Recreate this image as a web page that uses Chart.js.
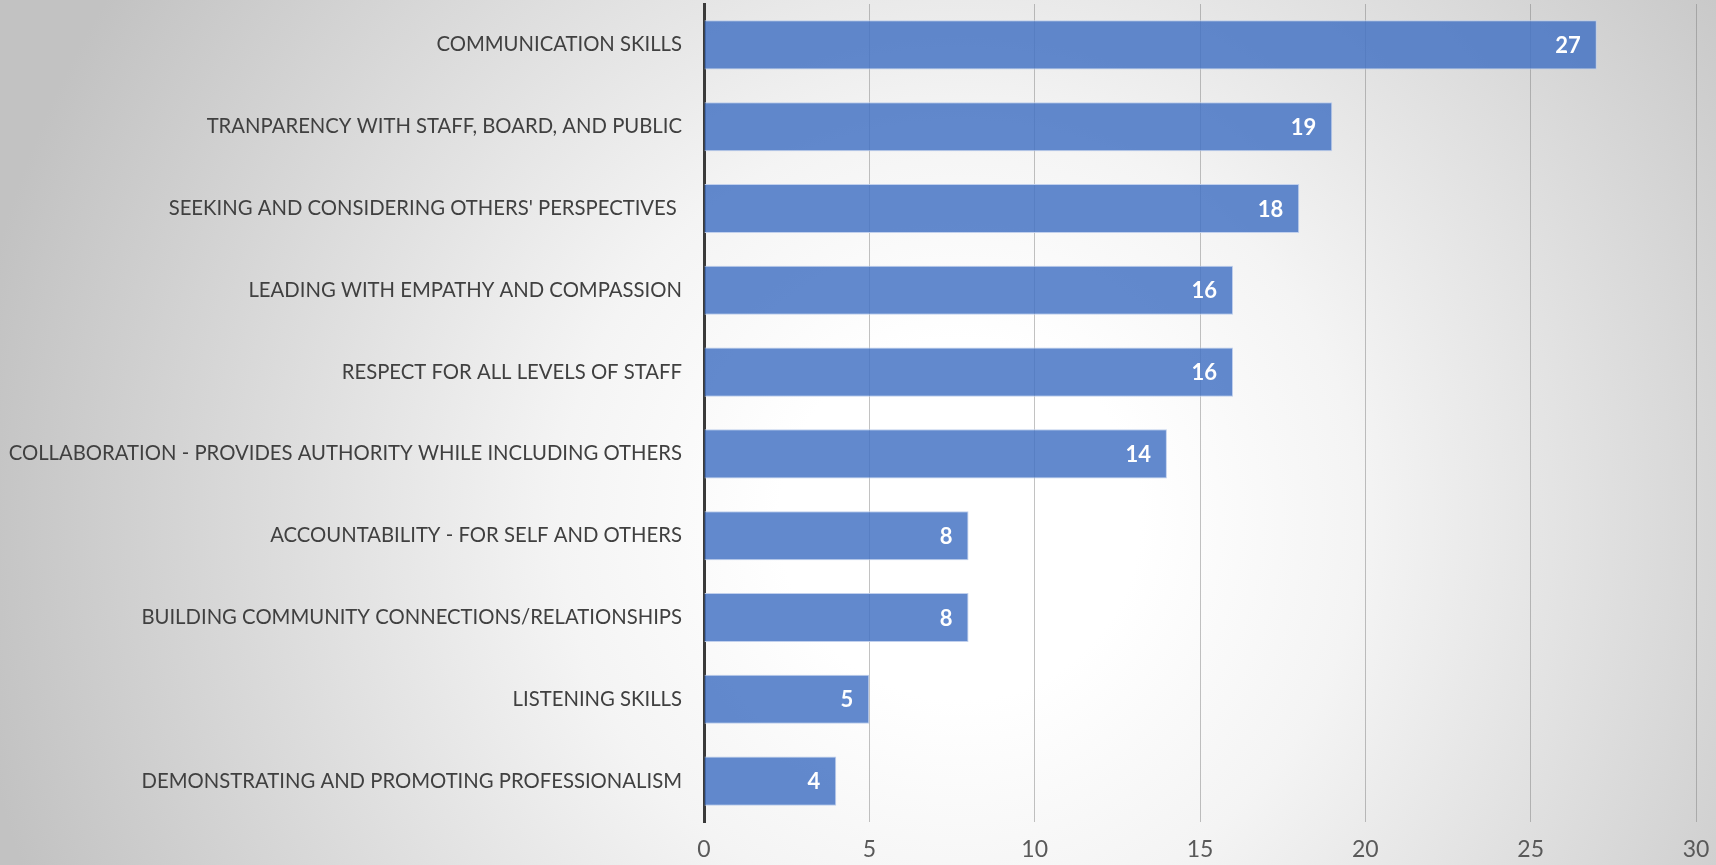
<!DOCTYPE html>
<html>
<head>
<meta charset="utf-8">
<script src="https://cdn.jsdelivr.net/npm/chart.js@4/dist/chart.umd.min.js"></script>
<style>
    html, body {
        margin: 0;
        padding: 0;
        width: 1716px;
        height: 865px;
        overflow: hidden;
    }
    body {
        background: radial-gradient(ellipse 1000px 1000px at 960px 520px, #ffffff 18%, #f4f4f4 40%, #c2c2c2 100%);
    }
    #wrap {
        position: relative;
        width: 1716px;
        height: 865px;
    }
</style>
</head>
<body>
<div id="wrap"><canvas id="skillsChart"></canvas></div>
<script>
const skillLabels = [
    'COMMUNICATION SKILLS',
    'TRANPARENCY WITH STAFF, BOARD, AND PUBLIC',
    "SEEKING AND CONSIDERING OTHERS' PERSPECTIVES ",
    'LEADING WITH EMPATHY AND COMPASSION',
    'RESPECT FOR ALL LEVELS OF STAFF',
    'COLLABORATION - PROVIDES AUTHORITY WHILE INCLUDING OTHERS',
    'ACCOUNTABILITY - FOR SELF AND OTHERS',
    'BUILDING COMMUNITY CONNECTIONS/RELATIONSHIPS',
    'LISTENING SKILLS',
    'DEMONSTRATING AND PROMOTING PROFESSIONALISM'
];
const skillCounts = [27, 19, 18, 16, 16, 14, 8, 8, 5, 4];
const axisMin = 0;
const axisMax = 30;
const axisStep = 5;

const fontFamily = 'Lato, "Open Sans", sans-serif';

// white bold numbers at the inner end of each bar
const barValueLabels = {
    id: 'barValueLabels',
    afterDatasetsDraw(chart) {
        const ctx = chart.ctx;
        const meta = chart.getDatasetMeta(0);
        ctx.save();
        ctx.font = 'bold 22px ' + fontFamily;
        ctx.fillStyle = '#ffffff';
        ctx.textAlign = 'right';
        ctx.textBaseline = 'middle';
        meta.data.forEach((bar, i) => {
            ctx.fillText(String(chart.data.datasets[0].data[i]), bar.x - 16, bar.y + 1);
        });
        ctx.restore();
    }
};

const ctx = document.getElementById('skillsChart').getContext('2d');
const skillsChart = new Chart(ctx, {
    type: 'bar',
    data: {
        labels: skillLabels,
        datasets: [{
            data: skillCounts,
            backgroundColor: 'rgba(68, 114, 196, 0.84)',
            borderColor: 'rgba(190, 206, 236, 0.95)',
            borderWidth: 1,
            categoryPercentage: 0.6,
            barPercentage: 1.0
        }]
    },
    options: {
        indexAxis: 'y',
        responsive: true,
        maintainAspectRatio: false,
        animation: false,
        layout: {
            padding: { top: 4, right: 20, left: 0, bottom: 0 }
        },
        plugins: {
            legend: { display: false },
            tooltip: { enabled: false }
        },
        scales: {
            x: {
                min: axisMin,
                max: axisMax,
                ticks: {
                    stepSize: axisStep,
                    color: '#595959',
                    font: { family: fontFamily, size: 23 },
                    padding: 14
                },
                grid: {
                    color: 'rgba(120, 120, 120, 0.45)',
                    lineWidth: 1,
                    drawTicks: false
                },
                border: { display: false },
                afterFit(scale) {
                    scale.height = 43;
                    scale.paddingLeft = 0;
                    scale.paddingRight = 0;
                }
            },
            y: {
                ticks: {
                    color: '#404040',
                    font: { family: fontFamily, size: 20.3 },
                    padding: 22,
                    autoSkip: false
                },
                grid: { display: false, drawTicks: false },
                border: { display: true, color: '#3a3a3a', width: 3 },
                afterFit(scale) {
                    scale.width = 704;
                    scale.paddingTop = 0;
                    scale.paddingBottom = 0;
                }
            }
        }
    },
    plugins: [barValueLabels]
});
</script>
</body>
</html>
